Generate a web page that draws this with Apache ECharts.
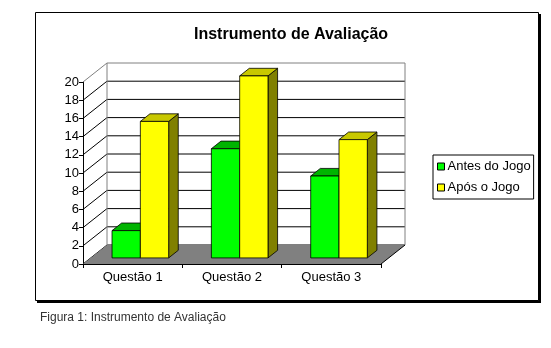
<!DOCTYPE html>
<html>
<head>
<meta charset="utf-8">
<script src="https://cdn.jsdelivr.net/npm/echarts@6/dist/echarts.min.js"></script>
<style>html,body{margin:0;padding:0;background:#fff;}#c{width:551px;height:348px;}</style>
</head>
<body>
<div id="c"></div>
<script>
var categories = ['Questão 1', 'Questão 2', 'Questão 3'];
var antesDoJogo = [3, 12, 9];
var aposOJogo = [15, 20, 13];
var seriesNames = ['Antes do Jogo', 'Após o Jogo'];
var yTicks = [0, 2, 4, 6, 8, 10, 12, 14, 16, 18, 20];

var FONT = '"Liberation Sans", Arial, sans-serif';
var DX = 24, DY = -19;          // depth of the 3D box
var BF = 0.32, BB = 0.72;        // bar front/back depth fraction
var BARW = 0.285;                // bar width as band fraction

var faceColors = [
  {front: '#00FF00', top: '#00B400', side: '#008000'},
  {front: '#FFFF00', top: '#C8C800', side: '#808000'}
];

function barRender(sIdx) {
  return function (params, api) {
    var cat = api.value(0), v = api.value(1);
    var base = api.coord([cat, 0]);
    var top = api.coord([cat, v]);
    var bw = api.size([1, 0])[0];
    var w = bw * BARW;
    var fx = DX * BF, fy = DY * BF;
    var ddx = DX * (BB - BF), ddy = DY * (BB - BF);
    var x0 = base[0] - (sIdx === 0 ? w : 0) + fx;
    var x1 = x0 + w;
    var yb = base[1] + fy, yt = top[1] + fy;
    var c = faceColors[sIdx];
    var st = function (f) { return {fill: f, stroke: '#000', lineWidth: 0.8}; };
    return {
      type: 'group',
      children: [
        {type: 'polygon', shape: {points: [[x1, yb], [x1 + ddx, yb + ddy], [x1 + ddx, yt + ddy], [x1, yt]]}, style: st(c.side)},
        {type: 'polygon', shape: {points: [[x0, yt], [x1, yt], [x1 + ddx, yt + ddy], [x0 + ddx, yt + ddy]]}, style: st(c.top)},
        {type: 'rect', shape: {x: x0, y: yt, width: w, height: yb - yt}, style: st(c.front)}
      ]
    };
  };
}

function gridRender(params, api) {
  var v = api.value(0);
  var cs = params.coordSys;
  var y = api.coord([0, v])[1];
  var x0 = cs.x, x1 = cs.x + cs.width;
  var isTop = v === yTicks[yTicks.length - 1];
  return {
    type: 'group',
    children: [
      {type: 'line', shape: {x1: x0, y1: y, x2: x0 + DX, y2: y + DY}, style: {stroke: isTop ? '#808080' : '#000', lineWidth: 1}},
      {type: 'line', shape: {x1: x0 + DX, y1: y + DY, x2: x1 + DX, y2: y + DY}, style: {stroke: isTop ? '#808080' : '#000', lineWidth: 1}}
    ]
  };
}

function wallRender(params, api) {
  var cs = params.coordSys;
  var y0 = api.coord([0, yTicks[0]])[1];
  var yT = api.coord([0, yTicks[yTicks.length - 1]])[1];
  var x0 = cs.x, x1 = cs.x + cs.width;
  return {
    type: 'group',
    children: [
      {type: 'line', shape: {x1: x0 + DX, y1: y0 + DY, x2: x0 + DX, y2: yT + DY}, style: {stroke: '#808080', lineWidth: 1}},
      {type: 'line', shape: {x1: x1 + DX, y1: y0 + DY, x2: x1 + DX, y2: yT + DY}, style: {stroke: '#808080', lineWidth: 1}},
      {type: 'polygon', shape: {points: [[x0, y0], [x1, y0], [x1 + DX, y0 + DY], [x0 + DX, y0 + DY]]}, style: {fill: '#808080', stroke: null}},
      {type: 'line', shape: {x1: x1, y1: y0, x2: x1 + DX, y2: y0 + DY}, style: {stroke: '#000', lineWidth: 1}}
    ]
  };
}

var chart = echarts.init(document.getElementById('c'), null, {renderer: 'canvas'});
chart.setOption({
  animation: false,
  backgroundColor: '#fff',
  graphic: [
    {type: 'rect', z: -10, shape: {x: 37, y: 14, width: 504, height: 289}, style: {fill: '#000'}},
    {type: 'rect', z: -9, shape: {x: 35.5, y: 12.5, width: 503, height: 288}, style: {fill: '#fff', stroke: '#000', lineWidth: 1}}
  ],
  title: [
    {text: 'Instrumento de Avaliação', left: 189, top: 22,
      textStyle: {fontFamily: FONT, fontSize: 16, fontWeight: 'bold', color: '#000'}},
    {text: 'Figura 1: Instrumento de Avaliação', left: 35, top: 307,
      textStyle: {fontFamily: FONT, fontSize: 12, fontWeight: 'normal', color: '#333'}}
  ],
  legend: {
    data: seriesNames,
    orient: 'vertical',
    left: 433, top: 155,
    padding: [5, 3, 5, 4],
    itemGap: 8,
    itemWidth: 7, itemHeight: 7,
    icon: 'rect',
    borderColor: '#000', borderWidth: 1,
    backgroundColor: '#fff',
    itemStyle: {borderColor: '#000', borderWidth: 1},
    textStyle: {fontFamily: FONT, fontSize: 13, color: '#000', padding: [0, 0, 0, -2]}
  },
  grid: {left: 83, top: 82, width: 298, height: 182},
  xAxis: {
    type: 'category',
    data: categories,
    axisLine: {lineStyle: {color: '#000', width: 1}},
    axisTick: {show: true, length: 4, lineStyle: {color: '#000'}},
    axisLabel: {fontFamily: FONT, fontSize: 13, color: '#000', margin: 7},
    z: 5
  },
  yAxis: {
    type: 'value',
    min: 0, max: 20, interval: 2,
    axisLine: {show: true, lineStyle: {color: '#000', width: 1}},
    axisTick: {show: true, length: 4, lineStyle: {color: '#000'}},
    axisLabel: {fontFamily: FONT, fontSize: 13, color: '#000', margin: 4},
    splitLine: {show: false}
  },
  series: [
    {type: 'custom', name: 'grid', renderItem: gridRender, data: yTicks.map(function (t) { return [t]; }),
      encode: {y: 0}, z: 1, silent: true},
    {type: 'custom', name: 'walls', renderItem: wallRender, data: [[0]], encode: {y: 0}, z: 2, silent: true},
    {type: 'custom', name: seriesNames[0], renderItem: barRender(0), z: 3,
      itemStyle: {color: faceColors[0].front},
      data: antesDoJogo.map(function (v, i) { return [i, v]; })},
    {type: 'custom', name: seriesNames[1], renderItem: barRender(1), z: 4,
      itemStyle: {color: faceColors[1].front},
      data: aposOJogo.map(function (v, i) { return [i, v]; })}
  ]
});
</script>
</body>
</html>
